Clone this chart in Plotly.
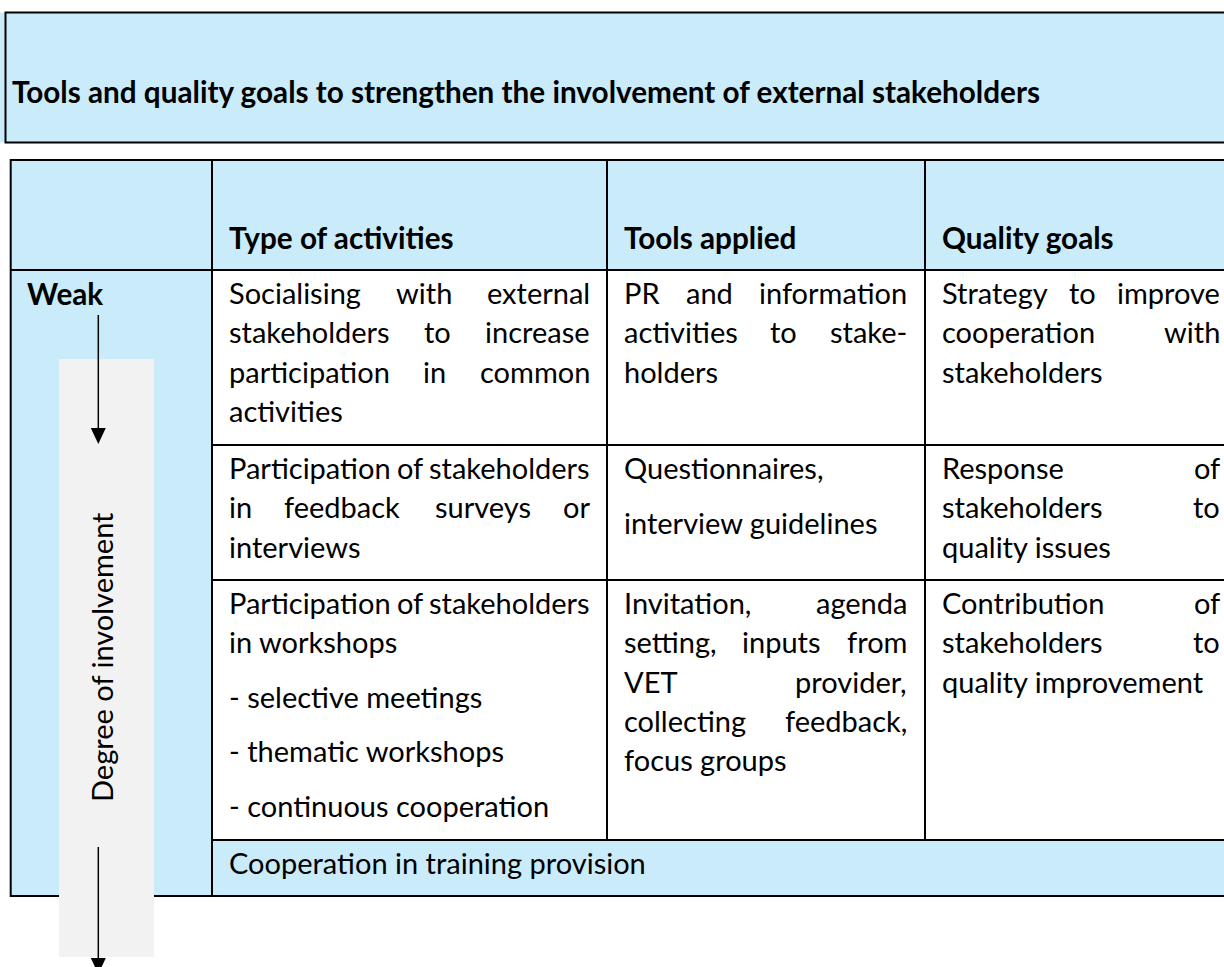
import glob
import plotly.graph_objects as go

# ---------------- data ----------------
title_text = "Tools and quality goals to strengthen the involvement of external stakeholders"
column_headers = ["Type of activities", "Tools applied", "Quality goals"]
degree_start_label = "Weak"
degree_axis_label = "Degree of involvement"

# each cell: list of paragraphs, each paragraph: list of lines
type_of_activities = [
    [["Socialising with external", "stakeholders to increase", "participation in common", "activities"]],
    [["Participation of stakeholders", "in feedback surveys or", "interviews"]],
    [["Participation of stakeholders", "in workshops"], ["- selective meetings"],
     ["- thematic workshops"], ["- continuous cooperation"]],
]
tools_applied = [
    [["PR and information", "activities to stake-", "holders"]],
    [["Questionnaires,"], ["interview guidelines"]],
    [["Invitation, agenda", "setting, inputs from", "VET provider,", "collecting feedback,", "focus groups"]],
]
quality_goals = [
    [["Strategy to improve", "cooperation with", "stakeholders"]],
    [["Response of", "stakeholders to", "quality issues"]],
    [["Contribution of", "stakeholders to", "quality improvement"]],
]
merged_row_text = "Cooperation in training provision"

# ---------------- layout / style ----------------
W, H = 1224, 967
BLUE = "#c9ebfa"
GRAY = "#f2f2f2"
FONT = "Lato"
FS = 29
FSB = 29.7
BODY = dict(family=FONT, size=FS, color="#000000")
BOLD = dict(family=FONT, size=FSB, color="#000000")

col_edges = [10.7, 212, 607, 925, 1240]
row_edges = [160, 270, 445, 580, 840, 896]
text_left = [227, 622, 940]
text_right = [592, 909, 1222]
FIRST = 22.5
LINE = 39.3
PARA = 54.5

CW = {}
for ch, w in {"a": .51, "b": .56, "c": .46, "d": .56, "e": .52, "f": .32, "g": .50, "h": .56,
              "i": .24, "j": .24, "k": .50, "l": .24, "m": .84, "n": .56, "o": .56, "p": .56,
              "q": .56, "r": .36, "s": .43, "t": .35, "u": .56, "v": .50, "w": .76, "x": .49,
              "y": .50, "z": .45, ",": .24, "-": .34, ".": .24, " ": .26}.items():
    CW[ch] = w


def make_measure():
    try:
        from PIL import ImageFont
        paths = glob.glob("/usr/share/fonts/**/Lato-Regular.ttf", recursive=True)
        if paths:
            f = ImageFont.truetype(paths[0], 100)
            return lambda s, size: f.getlength(s) * size / 100.0
    except Exception:
        pass
    return lambda s, size: sum(CW.get(c, 0.62) for c in s) * size


measure = make_measure()

annotations = []


def text(x, y, s, anchor="left", font=BODY, angle=0):
    annotations.append(dict(x=x, y=y, xref="x", yref="y", text=s, showarrow=False,
                            xanchor=anchor, yanchor="middle", font=font, textangle=angle))


def add_line(s, left, right, y, justify):
    avail = right - left
    size = FS
    natural = measure(s, FS)
    if natural > avail:
        size = FS * avail / natural * 0.995
    font = dict(BODY, size=size)
    words = s.split(" ")
    if not justify or len(words) == 1:
        text(left, y, s, "left", font)
        return
    widths = [measure(w, size) for w in words]
    gap = (avail - sum(widths)) / (len(words) - 1)
    x = left
    for i, (w, wd) in enumerate(zip(words, widths)):
        if i == 0:
            text(left, y, w, "left", font)
        elif i == len(words) - 1:
            text(right, y, w, "right", font)
        else:
            text(x + wd / 2, y, w, "center", font)
        x += wd + gap


def add_cell(paragraphs, ci, ri):
    y = row_edges[ri] + FIRST
    for pi, para in enumerate(paragraphs):
        if pi > 0:
            y += PARA - LINE
        for li, line in enumerate(para):
            add_line(line, text_left[ci], text_right[ci], y, li < len(para) - 1)
            y += LINE


shapes = []


def rect(x0, y0, x1, y1, fill=None, line=None, lw=2):
    shapes.append(dict(type="rect", xref="x", yref="y", x0=x0, y0=y0, x1=x1, y1=y1,
                       fillcolor=fill if fill else "rgba(0,0,0,0)",
                       line=dict(color=line if line else "rgba(0,0,0,0)", width=lw if line else 0)))


def hline(y, x0, x1, lw=2):
    shapes.append(dict(type="line", xref="x", yref="y", x0=x0, x1=x1, y0=y, y1=y,
                       line=dict(color="black", width=lw)))


def vline(x, y0, y1, lw=2):
    shapes.append(dict(type="line", xref="x", yref="y", x0=x, x1=x, y0=y0, y1=y1,
                       line=dict(color="black", width=lw)))


# title box
rect(0, 12.5, 1240, 142.5, fill=BLUE)
rect(5.5, 12.5, 1240, 142.5, line="black")
text(10, 91, "<b>" + title_text + "</b>", "left", BOLD)

# table backgrounds
rect(col_edges[0], row_edges[0], col_edges[1], row_edges[-1], fill=BLUE)
rect(col_edges[1], row_edges[0], col_edges[-1], row_edges[1], fill=BLUE)
rect(col_edges[1], row_edges[4], col_edges[-1], row_edges[5], fill=BLUE)

# table lines
rect(col_edges[0], row_edges[0], col_edges[-1], row_edges[-1], line="black")
vline(col_edges[1], row_edges[0], row_edges[-1])
for cx in col_edges[2:4]:
    vline(cx, row_edges[0], row_edges[4])
hline(row_edges[1], col_edges[0], col_edges[-1])
for ry in row_edges[2:5]:
    hline(ry, col_edges[1], col_edges[-1])

# degree-of-involvement band and arrows
AX = 98.3
rect(59, 359, 154, 957, fill=GRAY)
vline(AX, 315, 430, lw=1.5)
shapes.append(dict(type="path", xref="x", yref="y",
                   path=f"M {AX-7.5},428 L {AX+7.5},428 L {AX},444 Z",
                   fillcolor="black", line=dict(color="black", width=0)))
vline(AX, 847, 960, lw=1.5)
shapes.append(dict(type="path", xref="x", yref="y",
                   path=f"M {AX-7.5},958 L {AX+7.5},958 L {AX},974 Z",
                   fillcolor="black", line=dict(color="black", width=0)))

# header texts
for ci, h in enumerate(column_headers):
    text(text_left[ci], 237, "<b>" + h + "</b>", "left", BOLD)

text(25, 293, "<b>" + degree_start_label + "</b>", "left", BOLD)
text(101, 657, degree_axis_label, "center", BODY, angle=-90)

for ci, col in enumerate([type_of_activities, tools_applied, quality_goals]):
    for ri, cell in enumerate(col):
        add_cell(cell, ci, ri + 1)

text(text_left[0], 862, merged_row_text, "left", BODY)

fig = go.Figure()
fig.update_layout(
    width=W, height=H,
    margin=dict(l=0, r=0, t=0, b=0),
    paper_bgcolor="white", plot_bgcolor="white",
    xaxis=dict(range=[0, W], visible=False, fixedrange=True),
    yaxis=dict(range=[H, 0], visible=False, fixedrange=True),
    shapes=shapes, annotations=annotations, showlegend=False,
)
fig.write_html("out.html", config={"displayModeBar": False},
               post_script="document.body.style.margin='0';document.body.style.overflow='hidden';")
